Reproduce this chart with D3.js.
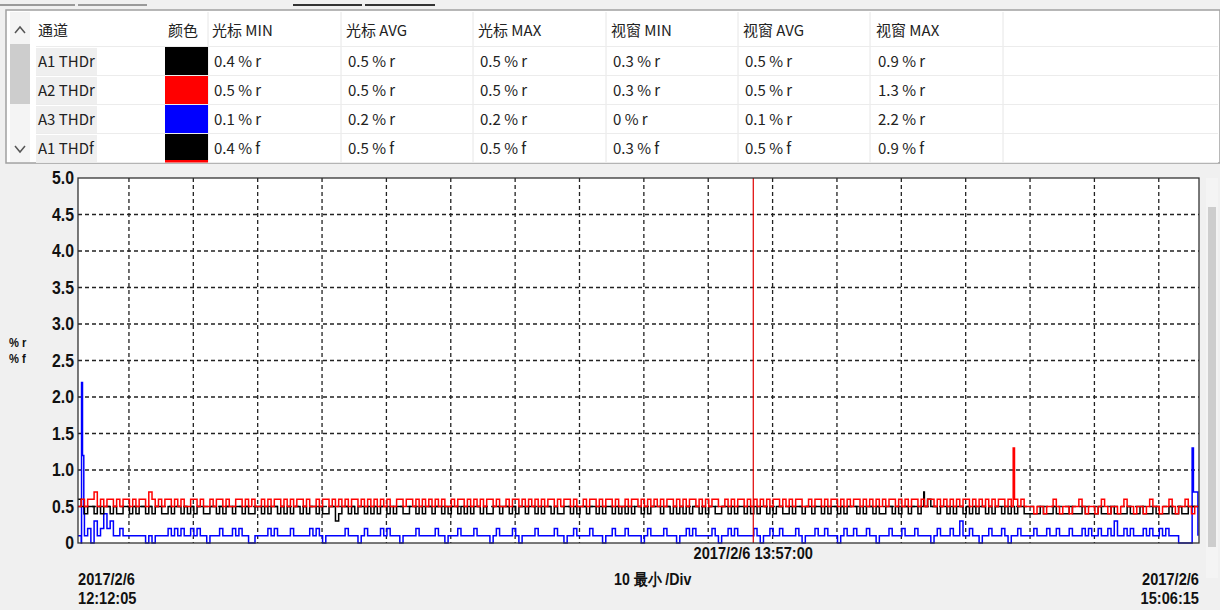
<!DOCTYPE html>
<html>
<head>
<meta charset="utf-8">
<script src="https://cdn.jsdelivr.net/npm/d3@7/dist/d3.min.js"></script>
<style>
  body { margin: 0; background: #f0f0f0; }
  svg { display: block; }
  .tbl { font-family: "Noto Sans CJK SC", "Noto Sans", sans-serif; font-size: 15px; fill: #222; }
  .lbl { font-family: "Liberation Sans", Arial, sans-serif; font-weight: bold; fill: #111; }
</style>
</head>
<body>
<svg id="chart" width="1220" height="610"></svg>
<script>
// table contents
const columns = ["通道", "颜色", "光标 MIN", "光标 AVG", "光标 MAX", "视窗 MIN", "视窗 AVG", "视窗 MAX"];
const channels = ["A1 THDr", "A2 THDr", "A3 THDr", "A1 THDf"];
const channelColors = ["#000000", "#ff0000", "#0000ff", "#000000"];
const cursorMin = ["0.4 % r", "0.5 % r", "0.1 % r", "0.4 % f"];
const cursorAvg = ["0.5 % r", "0.5 % r", "0.2 % r", "0.5 % f"];
const cursorMax = ["0.5 % r", "0.5 % r", "0.2 % r", "0.5 % f"];
const windowMin = ["0.3 % r", "0.3 % r", "0 % r", "0.3 % f"];
const windowAvg = ["0.5 % r", "0.5 % r", "0.1 % r", "0.5 % f"];
const windowMax = ["0.9 % r", "1.3 % r", "2.2 % r", "0.9 % f"];

// chart
const startTime = new Date(2017, 1, 6, 12, 12, 5);
const endTime = new Date(2017, 1, 6, 15, 6, 15);
const cursorTime = new Date(2017, 1, 6, 13, 57, 0);
const yTicks = [0, 0.5, 1, 1.5, 2, 2.5, 3, 3.5, 4, 4.5, 5];
const sampleMinutes = 0.5; // one value every 30 s from 12:12:05

const a1THDr = [
  0.6,0.5,0.4,0.5,0.5,0.4,0.5,0.4,0.5,0.5, 0.4,0.5,0.4,0.4,0.5,0.5,0.4,0.5,0.4,0.5,
  0.5,0.4,0.5,0.4,0.5,0.5,0.4,0.4,0.5,0.4, 0.5,0.5,0.4,0.5,0.4,0.5,0.4,0.5,0.5,0.4,
  0.4,0.5,0.5,0.4,0.5,0.4,0.5,0.5,0.4,0.5, 0.5,0.4,0.5,0.4,0.4,0.5,0.5,0.4,0.5,0.4,
  0.5,0.5,0.4,0.5,0.4,0.5,0.4,0.5,0.5,0.4, 0.5,0.4,0.5,0.5,0.4,0.5,0.4,0.4,0.5,0.5,
  0.3,0.4,0.5,0.5,0.4,0.5,0.4,0.5,0.5,0.4, 0.5,0.4,0.5,0.4,0.5,0.5,0.4,0.5,0.4,0.5,
  0.5,0.4,0.4,0.5,0.5,0.4,0.5,0.4,0.5,0.5, 0.4,0.5,0.5,0.4,0.5,0.4,0.5,0.5,0.4,0.5,
  0.4,0.5,0.4,0.5,0.5,0.4,0.5,0.4,0.4,0.5, 0.5,0.4,0.5,0.5,0.4,0.5,0.4,0.5,0.5,0.4,
  0.5,0.5,0.4,0.5,0.4,0.5,0.5,0.4,0.5,0.4, 0.4,0.5,0.5,0.4,0.5,0.4,0.5,0.5,0.4,0.5,
  0.5,0.4,0.5,0.4,0.5,0.5,0.4,0.5,0.4,0.5, 0.4,0.5,0.4,0.5,0.5,0.4,0.5,0.4,0.5,0.5,
  0.5,0.4,0.5,0.5,0.4,0.5,0.4,0.5,0.4,0.5, 0.4,0.5,0.5,0.4,0.5,0.4,0.5,0.5,0.4,0.4,
  0.5,0.5,0.4,0.5,0.4,0.5,0.5,0.4,0.5,0.4, 0.5,0.4,0.5,0.5,0.4,0.5,0.4,0.5,0.5,0.4,
  0.4,0.5,0.4,0.5,0.5,0.4,0.5,0.5,0.4,0.5, 0.5,0.4,0.5,0.4,0.5,0.5,0.4,0.5,0.4,0.5,
  0.5,0.5,0.4,0.5,0.4,0.5,0.5,0.4,0.5,0.4, 0.4,0.5,0.5,0.4,0.5,0.4,0.5,0.5,0.4,0.5,
  0.5,0.4,0.5,0.5,0.6,0.5,0.5,0.4,0.5,0.5, 0.4,0.5,0.4,0.5,0.5,0.4,0.5,0.4,0.5,0.4,
  0.5,0.5,0.4,0.5,0.4,0.5,0.5,0.4,0.5,0.4, 0.5,0.4,0.5,0.5,0.4,0.4,0.4,0.4,0.4,0.5,
  0.4,0.4,0.4,0.5,0.4,0.4,0.4,0.4,0.5,0.4, 0.4,0.4,0.5,0.4,0.4,0.4,0.4,0.5,0.4,0.4,
  0.4,0.5,0.4,0.4,0.4,0.4,0.5,0.4,0.4,0.4, 0.5,0.4,0.4,0.4,0.5,0.4,0.4,0.4,0.4,0.5,
  0.4,0.4,0.5,0.4,0.4,0.5,0.5,0.5,0.5
];
const a2THDr = [
  0.5,0.6,0.5,0.6,0.6,0.7,0.5,0.6,0.5,0.6, 0.6,0.5,0.6,0.5,0.6,0.6,0.5,0.6,0.5,0.6,
  0.6,0.5,0.7,0.6,0.5,0.6,0.5,0.6,0.6,0.5, 0.6,0.5,0.6,0.5,0.5,0.6,0.6,0.5,0.6,0.5,
  0.5,0.6,0.5,0.6,0.6,0.5,0.6,0.5,0.5,0.6, 0.6,0.5,0.6,0.5,0.6,0.5,0.5,0.6,0.5,0.6,
  0.5,0.6,0.6,0.5,0.6,0.5,0.6,0.5,0.6,0.6, 0.5,0.6,0.5,0.5,0.6,0.5,0.6,0.6,0.5,0.6,
  0.5,0.6,0.5,0.6,0.5,0.6,0.6,0.5,0.6,0.5, 0.6,0.5,0.6,0.5,0.6,0.5,0.6,0.5,0.5,0.6,
  0.6,0.5,0.6,0.6,0.5,0.6,0.5,0.6,0.5,0.6, 0.5,0.6,0.5,0.6,0.5,0.5,0.6,0.5,0.6,0.6,
  0.5,0.6,0.5,0.6,0.5,0.6,0.5,0.6,0.6,0.5, 0.6,0.5,0.5,0.6,0.5,0.6,0.6,0.5,0.6,0.5,
  0.6,0.5,0.6,0.5,0.6,0.5,0.6,0.6,0.5,0.6, 0.5,0.6,0.6,0.5,0.6,0.5,0.5,0.6,0.5,0.6,
  0.6,0.5,0.6,0.5,0.6,0.6,0.5,0.6,0.5,0.5, 0.6,0.5,0.6,0.6,0.5,0.6,0.5,0.6,0.5,0.6,
  0.5,0.6,0.5,0.6,0.6,0.5,0.6,0.5,0.6,0.5, 0.6,0.6,0.5,0.6,0.5,0.6,0.5,0.6,0.6,0.5,
  0.5,0.6,0.5,0.6,0.5,0.6,0.6,0.5,0.6,0.5, 0.6,0.5,0.6,0.5,0.6,0.5,0.6,0.6,0.5,0.6,
  0.5,0.6,0.5,0.6,0.6,0.5,0.5,0.6,0.5,0.6, 0.6,0.5,0.6,0.5,0.6,0.6,0.5,0.6,0.5,0.6,
  0.5,0.6,0.6,0.5,0.6,0.5,0.6,0.5,0.6,0.5, 0.6,0.5,0.6,0.6,0.5,0.6,0.5,0.6,0.5,0.6,
  0.6,0.5,0.6,0.5,0.6,0.6,0.5,0.6,0.5,0.6, 0.5,0.6,0.5,0.6,0.5,0.6,0.6,0.5,0.6,0.5,
  0.6,0.5,0.6,0.5,0.6,0.5,0.6,0.6,0.5,0.6, 0.5,0.6,0.5,0.6,0.5,0.5,0.5,0.4,0.5,0.5,
  0.4,0.5,0.5,0.6,0.5,0.4,0.5,0.5,0.4,0.5, 0.5,0.6,0.5,0.4,0.5,0.5,0.4,0.5,0.6,0.5,
  0.4,0.5,0.5,0.4,0.5,0.6,0.5,0.5,0.4,0.5, 0.5,0.4,0.5,0.6,0.5,0.5,0.4,0.5,0.5,0.6,
  0.5,0.4,0.5,0.5,0.6,0.5,0.4,0.5,0.5
];
const a3THDr = [
  0.1,0.0,0.1,0.2,0.0,0.3,0.1,0.2,0.4,0.2, 0.3,0.1,0.1,0.2,0.1,0.1,0.1,0.1,0.1,0.1,
  0.1,0.0,0.1,0.0,0.1,0.1,0.1,0.1,0.2,0.1, 0.2,0.1,0.2,0.1,0.1,0.2,0.1,0.2,0.1,0.1,
  0.0,0.1,0.1,0.1,0.2,0.1,0.1,0.1,0.2,0.1, 0.2,0.1,0.1,0.0,0.0,0.1,0.1,0.1,0.1,0.2,
  0.1,0.2,0.1,0.1,0.1,0.1,0.2,0.1,0.1,0.1, 0.1,0.1,0.2,0.1,0.2,0.1,0.0,0.1,0.1,0.1,
  0.1,0.1,0.1,0.2,0.1,0.1,0.1,0.0,0.1,0.2, 0.1,0.1,0.1,0.1,0.2,0.1,0.2,0.1,0.1,0.1,
  0.0,0.1,0.1,0.1,0.1,0.2,0.1,0.1,0.1,0.1, 0.1,0.2,0.1,0.1,0.0,0.1,0.1,0.1,0.2,0.1,
  0.1,0.1,0.1,0.2,0.1,0.1,0.1,0.1,0.0,0.1, 0.2,0.1,0.1,0.1,0.1,0.2,0.1,0.0,0.1,0.1,
  0.1,0.1,0.2,0.1,0.1,0.1,0.1,0.1,0.2,0.1, 0.1,0.0,0.1,0.1,0.2,0.1,0.1,0.1,0.1,0.2,
  0.1,0.1,0.1,0.0,0.1,0.1,0.2,0.1,0.1,0.1, 0.2,0.1,0.1,0.1,0.1,0.0,0.1,0.2,0.1,0.1,
  0.1,0.1,0.2,0.1,0.1,0.1,0.0,0.1,0.1,0.2, 0.1,0.2,0.1,0.1,0.1,0.1,0.1,0.2,0.1,0.0,
  0.1,0.1,0.2,0.1,0.2,0.1,0.1,0.1,0.1,0.1, 0.2,0.1,0.0,0.1,0.1,0.2,0.1,0.1,0.2,0.1,
  0.1,0.1,0.1,0.2,0.1,0.0,0.1,0.1,0.1,0.2, 0.1,0.1,0.2,0.1,0.1,0.1,0.0,0.1,0.2,0.1,
  0.1,0.2,0.1,0.1,0.1,0.2,0.1,0.1,0.0,0.1, 0.1,0.1,0.2,0.1,0.1,0.1,0.2,0.1,0.1,0.1,
  0.2,0.1,0.1,0.1,0.1,0.0,0.1,0.2,0.1,0.1, 0.1,0.2,0.1,0.1,0.3,0.1,0.1,0.2,0.1,0.1,
  0.0,0.1,0.1,0.2,0.1,0.1,0.1,0.2,0.1,0.0, 0.1,0.1,0.2,0.1,0.1,0.1,0.1,0.2,0.1,0.1,
  0.1,0.2,0.1,0.1,0.2,0.1,0.1,0.1,0.2,0.1, 0.1,0.1,0.2,0.1,0.2,0.1,0.1,0.2,0.1,0.1,
  0.2,0.1,0.3,0.1,0.1,0.2,0.1,0.2,0.1,0.1, 0.1,0.2,0.1,0.2,0.1,0.1,0.2,0.1,0.2,0.1,
  0.1,0.1,0.0,0.0,0.0,0.0,0.0,0.7,0.1
];
// short spikes between the samples: [minute, value]
const a1Spikes = [[131.4, 0.7]];
const a2Spikes = [[145.3, 1.3]];
const a3Spikes = [[0.55, 2.2], [0.7, 1.2], [0.9, 0.4], [173.1, 1.3], [173.3, 0.7]];

const svg = d3.select("#chart");

// bold narrow label: Liberation Sans squeezed horizontally
function label(px, py, txt, size, anchor) {
  return svg.append("text").attr("class", "lbl")
    .attr("transform", `translate(${px},${py}) scale(0.86,1)`)
    .attr("text-anchor", anchor || "start").style("font-size", size + "px").text(txt);
}

// ---------- top strip & table ----------
svg.append("rect").attr("width", 1220).attr("height", 610).attr("fill", "#f0f0f0");
[[0, 75, "#9a9a9a"], [78, 147, "#9a9a9a"], [293, 362, "#333"], [365, 435, "#333"]].forEach(s => {
  svg.append("line").attr("x1", s[0]).attr("x2", s[1]).attr("y1", 5).attr("y2", 5)
    .attr("stroke", s[2]).attr("stroke-width", 2);
});
svg.append("rect").attr("x", 6).attr("y", 10).attr("width", 1214).attr("height", 153)
  .attr("fill", "#fff").attr("stroke", "#a0a0a0").attr("stroke-width", 1.5);

const rowY = [47, 76, 105, 134];
const rowH = 29;
const colX = [38, 168, 212, 346, 478, 611, 743, 876];
const sepX = [208, 341, 473, 606, 738, 870, 1003];

sepX.forEach(x => svg.append("line").attr("x1", x).attr("x2", x).attr("y1", 12).attr("y2", 162)
  .attr("stroke", "#e6e6e6"));
rowY.concat([163]).forEach(y => svg.append("line").attr("x1", 36).attr("x2", 1218).attr("y1", y - 0.5).attr("y2", y - 0.5)
  .attr("stroke", "#ececec"));

// left scrollbar
svg.append("rect").attr("x", 10).attr("y", 12).attr("width", 20).attr("height", 150).attr("fill", "#f4f4f4");
svg.append("rect").attr("x", 10).attr("y", 44).attr("width", 20).attr("height", 60).attr("fill", "#cdcdcd");
svg.append("path").attr("d", "M15,33 L20,27 L25,33").attr("fill", "none").attr("stroke", "#555").attr("stroke-width", 1.5);
svg.append("path").attr("d", "M15,146 L20,152 L25,146").attr("fill", "none").attr("stroke", "#555").attr("stroke-width", 1.5);

columns.forEach((c, i) => {
  svg.append("text").attr("class", "tbl").attr("x", colX[i]).attr("y", 36).text(c);
});

const cells = [cursorMin, cursorAvg, cursorMax, windowMin, windowAvg, windowMax];
channels.forEach((ch, r) => {
  const y0 = rowY[r];
  svg.append("rect").attr("x", 36).attr("y", y0 + 1).attr("width", 61).attr("height", rowH - 2).attr("fill", "#efefef");
  svg.append("text").attr("class", "tbl").attr("x", 38).attr("y", y0 + 20).text(ch);
  svg.append("rect").attr("x", 165).attr("y", y0).attr("width", 43).attr("height", rowH - 1).attr("fill", channelColors[r]);
  cells.forEach((col, j) => {
    svg.append("text").attr("class", "tbl").attr("x", colX[j + 2] + 2).attr("y", y0 + 20).text(col[r]);
  });
});
svg.append("rect").attr("x", 165).attr("y", 160).attr("width", 43).attr("height", 2.5).attr("fill", "#ff0000");

// ---------- plot ----------
const pLeft = 78, pRight = 1199, pTop = 178, pBottom = 543;
const x = d3.scaleTime().domain([startTime, endTime]).range([pLeft, pRight]);
const y = d3.scaleLinear().domain([0, 5]).range([pBottom, pTop]);

// right scrollbar
svg.append("rect").attr("x", 1206).attr("y", 178).attr("width", 12).attr("height", 400).attr("fill", "#f4f4f4");
svg.append("rect").attr("x", 1208).attr("y", 207).attr("width", 8).attr("height", 340).attr("fill", "#cdcdcd");

svg.append("rect").attr("x", pLeft).attr("y", pTop).attr("width", pRight - pLeft).attr("height", pBottom - pTop).attr("fill", "#fff");

const grid = svg.append("g");
x.ticks(d3.timeMinute.every(10)).forEach(t => {
  grid.append("line").attr("x1", x(t)).attr("x2", x(t)).attr("y1", pTop).attr("y2", pBottom)
    .attr("stroke", "#222").attr("stroke-width", 1.3).attr("stroke-dasharray", "4,3");
});
yTicks.filter(v => v > 0 && v < 5).forEach(v => {
  grid.append("line").attr("x1", pLeft).attr("x2", pRight).attr("y1", y(v)).attr("y2", y(v))
    .attr("stroke", "#222").attr("stroke-width", 1.3).attr("stroke-dasharray", "4,3");
});

function series(vals, spikes) {
  const pts = vals.map((v, i) => [i * sampleMinutes, v]).concat(spikes);
  pts.sort((a, b) => a[0] - b[0]);
  return pts.map(p => [new Date(+startTime + p[0] * 60000), p[1]]);
}
const line = d3.line().x(d => x(d[0])).y(d => y(d[1])).curve(d3.curveStepAfter);

svg.append("path").datum(series(a3THDr, a3Spikes)).attr("d", line)
  .attr("fill", "none").attr("stroke", "#0000ff").attr("stroke-width", 1.5);
svg.append("path").datum(series(a1THDr, a1Spikes)).attr("d", line)
  .attr("fill", "none").attr("stroke", "#000").attr("stroke-width", 1.5);
svg.append("path").datum(series(a2THDr, a2Spikes)).attr("d", line)
  .attr("fill", "none").attr("stroke", "#ff0000").attr("stroke-width", 1.5);

// cursor
svg.append("line").attr("x1", x(cursorTime)).attr("x2", x(cursorTime)).attr("y1", pTop).attr("y2", pBottom)
  .attr("stroke", "#e00000").attr("stroke-width", 1.2);

svg.append("rect").attr("x", pLeft).attr("y", pTop).attr("width", pRight - pLeft).attr("height", pBottom - pTop)
  .attr("fill", "none").attr("stroke", "#333").attr("stroke-width", 1.3);

// y axis
const yAxis = svg.append("g").attr("transform", `translate(${pLeft},0)`)
  .call(d3.axisLeft(y).tickValues(yTicks).tickSize(0).tickPadding(4)
    .tickFormat(d => d === 0 ? "0" : d.toFixed(1)));
yAxis.select(".domain").remove();
yAxis.selectAll("text").attr("class", "lbl").attr("x", null)
  .attr("transform", "translate(-4,0) scale(0.88,1)")
  .style("font-size", "18px").attr("fill", "#111");

label(9, 347, "% r", 13);
label(9, 363, "% f", 13);

// x labels
const fmtDate = d3.timeFormat("%Y/%-m/%-d");
const fmtTime = d3.timeFormat("%H:%M:%S");
label(x(cursorTime), 559, fmtDate(cursorTime) + " " + fmtTime(cursorTime), 17, "middle");
label(pLeft, 585, fmtDate(startTime), 17);
label(pLeft, 604, fmtTime(startTime), 17);
label(pRight, 585, fmtDate(endTime), 17, "end");
label(pRight, 604, fmtTime(endTime), 17, "end");
label(614, 585, "10 最小 /Div", 16.5);
</script>
</body>
</html>
